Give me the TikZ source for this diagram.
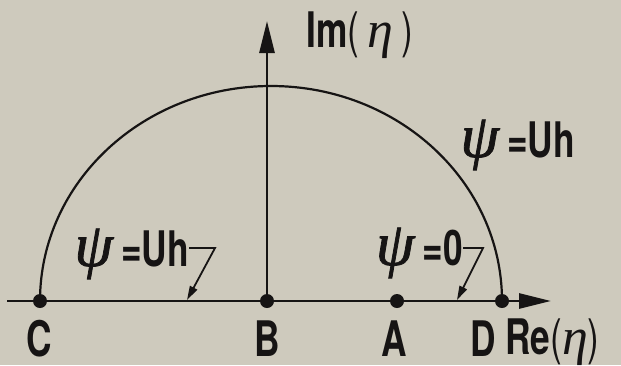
\documentclass[tikz,border=0pt]{standalone}
\usepackage{fontspec}
\newfontfamily\lblfont{TeX Gyre Heros}[FakeStretch=0.72]
\newfontfamily\grkfont{Liberation Serif}
\newfontfamily\psifont{Liberation Serif}[FakeBold=1.3]
\usetikzlibrary{arrows.meta}
\definecolor{bg}{RGB}{206,202,189}
\definecolor{ink}{RGB}{22,20,20}
\tikzset{
  lbl/.style={inner sep=0pt, text=ink, font=\lblfont\bfseries\fontsize{49}{51}\selectfont},
  axisline/.style={draw=ink, line width=2.8pt, -{Triangle[length=32pt,width=15pt]}},
  curve/.style={draw=ink, line width=2.2pt},
  leader/.style={draw=ink, line width=1.8pt, -{Triangle[length=14pt,width=8pt]}},
  dotnode/.style={circle, fill=ink, inner sep=0pt, minimum size=14pt},
}
\newcommand{\bpsi}{{\psifont\mdseries\itshape\fontsize{62}{64}\selectfont ψ}}
\newcommand{\eeta}{{\grkfont\mdseries\itshape\fontsize{52}{54}\selectfont η}}
\newcommand{\lp}{{\mdseries(}}
\newcommand{\rp}{{\mdseries)}}
\begin{document}
\begin{tikzpicture}[x=1pt,y=-1pt]
\fill[bg] (0,0) rectangle (621,365);
\useasboundingbox (0,0) rectangle (621,365);
% points
\coordinate (pC) at (40,301);
\coordinate (pB) at (267,301);
\coordinate (pA) at (397,301);
\coordinate (pD) at (502,301);
\coordinate (xl) at (7,301);
\coordinate (xr) at (551,301);
\coordinate (yt) at (267,21);
% curve and axes
\draw[curve] (pC) arc[start angle=180, end angle=0, x radius=231pt, y radius=215pt];
\draw[axisline] (xl) -- (xr);
\draw[axisline] (pB) -- (yt);
% dots
\node[dotnode] (C) at (pC) {};
\node[dotnode] (B) at (pB) {};
\node[dotnode] (A) at (pA) {};
\node[dotnode] (D) at (pD) {};
% axis labels
\node[lbl, anchor=base west] (im) at (306,47) {Im\lp\,\eeta\,\rp};
\node[lbl, anchor=base west] (re) at (505,354) {Re\lp\eeta\rp};
\node[lbl, anchor=base] (lC) at (39,356) {C};
\node[lbl, anchor=base] (lB) at (267,356) {B};
\node[lbl, anchor=base] (lA) at (394,356) {A};
\node[lbl, anchor=base] (lD) at (483,356) {D};
% psi labels
\node[lbl, anchor=base east] (top) at (575,157) {\bpsi\,=Uh};
\node[lbl, anchor=base east] (left) at (189,266) {\bpsi\,=Uh};
\node[lbl, anchor=base east] (right) at (463,265) {\bpsi\,=0};
% leaders
\coordinate (k1) at (215,248);
\coordinate (t1) at (187,300);
\coordinate (k2) at (483,248);
\coordinate (t2) at (457,300);
\draw[leader] (left.east |- k1) -- (k1) -- (t1);
\draw[leader] (right.east |- k2) -- (k2) -- (t2);
\end{tikzpicture}
\end{document}
